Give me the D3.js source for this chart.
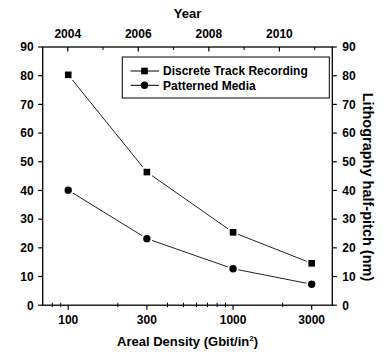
<!DOCTYPE html>
<html><head><meta charset="utf-8">
<script src="https://cdn.jsdelivr.net/npm/d3@7"></script>
<style>
body{margin:0;background:#fff;}
text{font-family:"Liberation Sans",Arial,sans-serif;font-weight:bold;fill:#000;}
</style></head>
<body>
<svg id="c" width="383" height="354"></svg>
<script>
const densities = [100, 300, 1000, 3000];
const discreteTrack = [80.3, 46.4, 25.4, 14.6];
const patternedMedia = [40.1, 23.2, 12.7, 7.3];
const xMajorTicks = [100, 300, 1000, 3000];
const xMinorTicks = [80, 90, 200, 400, 500, 600, 700, 800, 900, 2000];
const yearTicks = [2004, 2006, 2008, 2010];
const yearMinorTicks = [2005, 2007, 2009, 2011];
const yTicks = [0, 10, 20, 30, 40, 50, 60, 70, 80, 90];
const seriesNames = ["Discrete Track Recording", "Patterned Media"];

const svg = d3.select("#c");
const L = 42.7, R = 332.3, T = 47, B = 305.2;
const x = d3.scaleLog().domain([70, 4000]).range([L, R]);
const xt = d3.scaleLinear().domain([2003.29, 2011.5]).range([L, R]);
const y = d3.scaleLinear().domain([0, 90]).range([B, T]);

// frame
const g = svg.append("g");
g.append("rect").attr("x", L).attr("y", T).attr("width", R - L).attr("height", B - T)
  .attr("fill", "none").attr("stroke", "#000").attr("stroke-width", 1.3);

// bottom axis
const botAx = g.append("g").attr("transform", `translate(0,${B})`);
botAx.selectAll("line.maj").data(xMajorTicks).join("line")
  .attr("x1", d => x(d)).attr("x2", d => x(d)).attr("y1", 0).attr("y2", 4.5)
  .attr("stroke", "#000").attr("stroke-width", 1.2);
botAx.selectAll("line.min").data(xMinorTicks).join("line")
  .attr("x1", d => x(d)).attr("x2", d => x(d)).attr("y1", -2.5).attr("y2", 2)
  .attr("stroke", "#000").attr("stroke-width", 1);
botAx.selectAll("text").data(xMajorTicks).join("text")
  .attr("x", d => x(d)).attr("y", 19).attr("text-anchor", "middle")
  .attr("font-size", 12).text(d => d);

// top axis
const topAx = g.append("g").attr("transform", `translate(0,${T})`);
topAx.selectAll("line.maj").data(yearTicks).join("line")
  .attr("x1", d => xt(d)).attr("x2", d => xt(d)).attr("y1", 0).attr("y2", 4.5)
  .attr("stroke", "#000").attr("stroke-width", 1.2);
topAx.selectAll("line.min").data(yearMinorTicks).join("line")
  .attr("x1", d => xt(d)).attr("x2", d => xt(d)).attr("y1", 0).attr("y2", 3)
  .attr("stroke", "#000").attr("stroke-width", 1);
topAx.selectAll("text").data(yearTicks).join("text")
  .attr("x", d => xt(d)).attr("y", -9).attr("text-anchor", "middle")
  .attr("font-size", 12).text(d => d);

// left axis
const leftAx = g.append("g").attr("transform", `translate(${L},0)`);
leftAx.selectAll("line").data(yTicks).join("line")
  .attr("x1", -4.5).attr("x2", 0).attr("y1", d => y(d)).attr("y2", d => y(d))
  .attr("stroke", "#000").attr("stroke-width", 1.2);
leftAx.selectAll("text").data(yTicks).join("text")
  .attr("x", -9).attr("y", d => y(d) + 4.3).attr("text-anchor", "end")
  .attr("font-size", 12).text(d => d);

// right axis
const rightAx = g.append("g").attr("transform", `translate(${R},0)`);
rightAx.selectAll("line").data(yTicks).join("line")
  .attr("x1", 0).attr("x2", 4.5).attr("y1", d => y(d)).attr("y2", d => y(d))
  .attr("stroke", "#000").attr("stroke-width", 1.2);
rightAx.selectAll("text").data(yTicks).join("text")
  .attr("x", 10).attr("y", d => y(d) + 4.3).attr("text-anchor", "start")
  .attr("font-size", 12).text(d => d);

// titles
svg.append("text").attr("x", (L + R) / 2).attr("y", 18).attr("text-anchor", "middle")
  .attr("font-size", 13).text("Year");
const xt2 = svg.append("text").attr("x", (L + R) / 2 + 0).attr("y", 346).attr("text-anchor", "middle")
  .attr("font-size", 13);
xt2.append("tspan").text("Areal Density (Gbit/in");
xt2.append("tspan").attr("dy", -5).attr("font-size", 8).text("2");
xt2.append("tspan").attr("dy", 5).text(")");
svg.append("text").attr("transform", `translate(363,187) rotate(90)`)
  .attr("text-anchor", "middle").attr("font-size", 14.5).text("Lithography half-pitch (nm)");

// series
const line = d3.line().x((d, i) => x(densities[i])).y(d => y(d));
const plot = svg.append("g");
[discreteTrack, patternedMedia].forEach(s => {
  plot.append("path").datum(s).attr("d", line).attr("fill", "none")
    .attr("stroke", "#222").attr("stroke-width", 1);
});
plot.selectAll("rect.sq").data(discreteTrack).join("rect").attr("class", "sq")
  .attr("x", (d, i) => x(densities[i]) - 4.2).attr("y", d => y(d) - 4.2)
  .attr("width", 8.4).attr("height", 8.4).attr("fill", "#000")
  .attr("stroke", "#fff").attr("stroke-width", 1.8);
plot.selectAll("circle.ci").data(patternedMedia).join("circle").attr("class", "ci")
  .attr("cx", (d, i) => x(densities[i])).attr("cy", d => y(d)).attr("r", 4.6).attr("fill", "#000")
  .attr("stroke", "#fff").attr("stroke-width", 1.8);

// legend
const lg = svg.append("g");
lg.append("rect").attr("x", 122.3).attr("y", 57).attr("width", 207).attr("height", 41)
  .attr("fill", "#fff").attr("stroke", "#000").attr("stroke-width", 1);
seriesNames.forEach((n, i) => {
  const yy = 71 + i * 14.3;
  lg.append("line").attr("x1", 130.5).attr("x2", 159).attr("y1", yy).attr("y2", yy)
    .attr("stroke", "#000").attr("stroke-width", 1);
  if (i === 0) lg.append("rect").attr("x", 144.5 - 3.3).attr("y", yy - 3.3).attr("width", 6.6).attr("height", 6.6).attr("fill", "#000");
  else lg.append("circle").attr("cx", 144.5).attr("cy", yy).attr("r", 3.7).attr("fill", "#000");
  lg.append("text").attr("x", 163).attr("y", yy + 4.3).attr("font-size", 12).text(n);
});
</script>
</body></html>
